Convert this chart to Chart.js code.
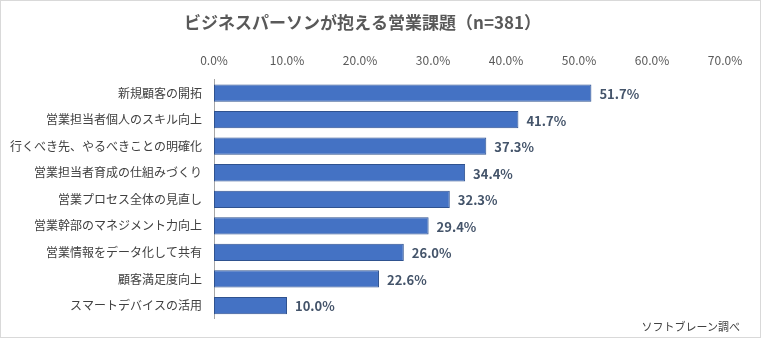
<!DOCTYPE html>
<html>
<head>
<meta charset="utf-8">
<script src="https://cdn.jsdelivr.net/npm/chart.js@4/dist/chart.umd.min.js"></script>
<style>
  html, body { margin: 0; padding: 0; background: #fff; }
  #wrap { position: relative; width: 761px; height: 338px; }
  #frame { position: absolute; left: 0; top: 0; width: 761px; height: 338px; box-sizing: border-box; border: 1px solid #d9d9d9; pointer-events: none; }
  #source { position: absolute; right: 21px; top: 318px; font: 11px "Noto Sans CJK JP", sans-serif; color: #404040; }
</style>
</head>
<body>
<div id="wrap">
  <canvas id="chart" width="761" height="338"></canvas>
  <div id="source">ソフトブレーン調べ</div>
  <div id="frame"></div>
</div>
<script>
// 카테고리 / 값
const categories = [
    '新規顧客の開拓',
    '営業担当者個人のスキル向上',
    '行くべき先、やるべきことの明確化',
    '営業担当者育成の仕組みづくり',
    '営業プロセス全体の見直し',
    '営業幹部のマネジメント力向上',
    '営業情報をデータ化して共有',
    '顧客満足度向上',
    'スマートデバイスの活用'
];
const values = [51.7, 41.7, 37.3, 34.4, 32.3, 29.4, 26.0, 22.6, 10.0];
const tickValues = [0, 10, 20, 30, 40, 50, 60, 70];

const JP = '"Noto Sans CJK JP", sans-serif';

// 막대 끝에 값 표시
const valueLabels = {
    id: 'valueLabels',
    afterDatasetsDraw(chart) {
        const ctx = chart.ctx;
        const meta = chart.getDatasetMeta(0);
        ctx.save();
        ctx.font = 'bold 13px ' + JP;
        ctx.fillStyle = '#44546a';
        ctx.textAlign = 'left';
        ctx.textBaseline = 'middle';
        meta.data.forEach((bar, i) => {
            ctx.fillText(values[i].toFixed(1) + '%', bar.x + 8, bar.y + 1);
        });
        ctx.restore();
    }
};

new Chart(document.getElementById('chart'), {
    type: 'bar',
    data: {
        labels: categories,
        datasets: [{
            data: values,
            backgroundColor: '#4472c4',
            borderColor: '#2f528f',
            borderWidth: 1,
            borderSkipped: false,
            categoryPercentage: 1,
            barPercentage: 0.65
        }]
    },
    options: {
        indexAxis: 'y',
        responsive: false,
        animation: false,
        layout: { padding: { top: 12, right: 36, bottom: 9, left: 0 } },
        plugins: {
            legend: { display: false },
            tooltip: { enabled: false },
            title: {
                display: true,
                text: 'ビジネスパーソンが抱える営業課題（n=381）',
                color: '#595959',
                font: { family: JP, size: 17, weight: 'bold' },
                padding: { top: 0, bottom: 9 }
            }
        },
        scales: {
            x: {
                position: 'top',
                min: 0,
                max: 70,
                afterBuildTicks: axis => { axis.ticks = tickValues.map(v => ({ value: v })); },
                ticks: {
                    callback: v => v.toFixed(1) + '%',
                    color: '#595959',
                    font: { family: JP, size: 12 },
                    padding: 12,
                    maxRotation: 0
                },
                grid: { display: false, drawTicks: false },
                border: { display: false }
            },
            y: {
                ticks: {
                    color: '#404040',
                    font: { family: JP, size: 12 },
                    padding: 12,
                    autoSkip: false
                },
                grid: { display: false, drawTicks: false },
                border: { display: true, color: '#a6a6a6', width: 1 },
                afterFit: axis => { axis.width = 214; }
            }
        }
    },
    plugins: [valueLabels]
});
</script>
</body>
</html>
